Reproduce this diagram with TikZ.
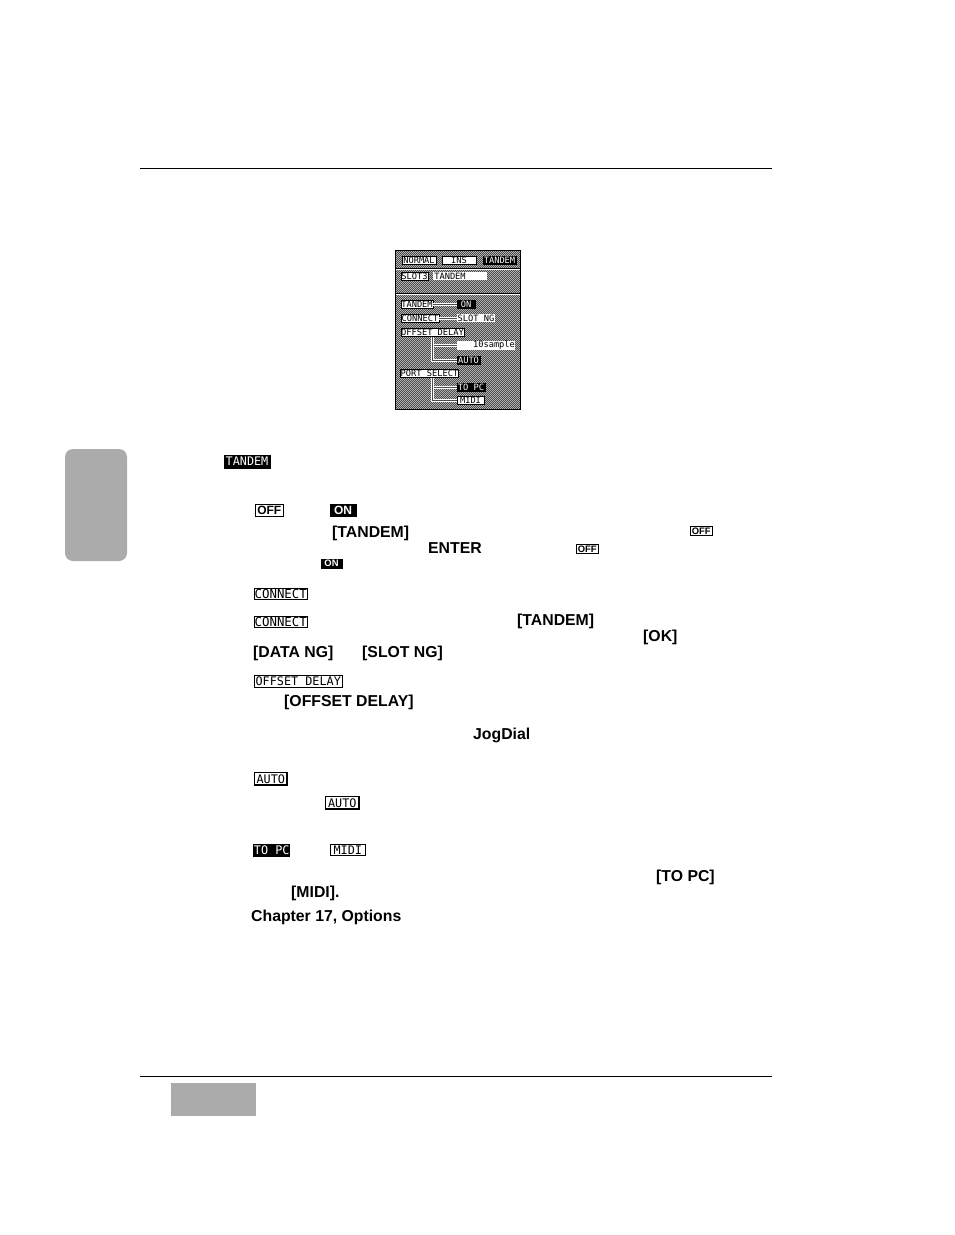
\documentclass[tikz,border=0pt]{standalone}
\usepackage{fontspec}
\setmainfont{Liberation Sans}
\newfontfamily\lcdfont{DejaVu Sans Mono}
\newcommand{\lcd}{\fontsize{8.7}{9}\lcdfont}
\newcommand{\lcdbig}{\fontsize{11.8}{12}\lcdfont}
\newcommand{\lcdcon}{\fontsize{12.4}{13}\lcdfont}
\newcommand{\offon}{\fontsize{12}{12}\bfseries}
\newcommand{\offonsm}{\fontsize{9.4}{10}\bfseries}
\newcommand{\mybtn}[7]{% name, style, x1, y1, x2, y2, text
  \pgfmathsetmacro{\bw}{#5-#3}\pgfmathsetmacro{\bh}{#6-#4}
  \pgfmathsetmacro{\cx}{(#3+#5)/2}\pgfmathsetmacro{\cy}{(#4+#6)/2}
  \node[#2, minimum width=\bw pt, minimum height=\bh pt] (#1) at (\cx,\cy) {#7};}
\tikzset{
  rulel/.style={line width=1pt, black},
  wbtn/.style={draw=black, fill=white, line width=1pt, inner sep=0pt, outer sep=0pt, text=black},
  kbtn/.style={draw=black, fill=black, line width=1pt, inner sep=0pt, outer sep=0pt, text=white},
  plain/.style={fill=white, inner sep=0pt, outer sep=0pt, text=black},
  wire/.style={black!70, line width=.5pt, preaction={draw, white, line width=3pt}},
  lab/.style={anchor=base west, inner sep=0pt, font=\fontsize{15.8}{16}\bfseries},
  chk/.style={black!70, line width=1pt, dash pattern=on 1pt off 1pt},
}
\begin{document}
\begin{tikzpicture}[x=1pt,y=-1pt]
\useasboundingbox (0,0) rectangle (954,1235);
\fill[white] (0,0) rectangle (954,1235);
\coordinate (tl) at (140,168.5); \coordinate (tr) at (772,168.5);
\coordinate (bl) at (140,1076.5); \coordinate (br) at (772,1076.5);
\draw[rulel] (tl) -- (tr);
\draw[rulel] (bl) -- (br);
\fill[black!33, rounded corners=8pt] (65,449) rectangle (127,561);
\fill[black!33] (171,1083) rectangle (256,1116);
% panel
\fill[black!30] (395,250) rectangle (521,410);
\foreach \r in {0,...,158}{
  \pgfmathtruncatemacro{\ph}{mod(\r,2)}
  \draw[chk, dash phase=\ph pt] (395,250.5+\r) -- (521,250.5+\r);
}
\draw[white,line width=1pt] (395.5,269.5) -- (520.5,269.5);
\draw[white,line width=1pt] (395.5,294.5) -- (520.5,294.5);
\draw[black,line width=1pt] (395.5,268.5) -- (520.5,268.5);
\draw[black,line width=1pt] (395.5,293.5) -- (520.5,293.5);
\draw[black,line width=1pt] (395.5,250.5) rectangle (520.5,409.5);
\begin{scope}[font=\lcd]
\mybtn{normal}{wbtn}{402}{256}{436}{264}{NORMAL}
\mybtn{ins}{wbtn}{442}{256}{476}{264}{INS}
\mybtn{tand}{kbtn}{483}{256}{516}{264}{TANDEM}
\mybtn{slot}{wbtn}{401}{272}{428}{280}{SLOT3}
\coordinate (offdrop) at (432,336);
\coordinate (portdrop) at (432,377);
\mybtn{slotv}{plain}{433}{272}{487}{280}{\hspace*{-20pt}TANDEM}
\mybtn{tandk}{wbtn}{401}{300}{433}{308}{TANDEM}
\mybtn{tandv}{kbtn}{457}{300}{475}{308}{ON}
\mybtn{conk}{wbtn}{401}{314}{439}{322}{CONNECT}
\mybtn{conv}{plain}{457}{314}{495}{322}{SLOT NG}
\mybtn{offv}{plain}{457}{342}{515}{349}{\hspace*{16pt}10sample}
\mybtn{autov}{kbtn}{457}{356}{480}{364}{AUTO}
\mybtn{pc}{kbtn}{457}{383}{485}{391}{TO PC}
\mybtn{midi}{wbtn}{457}{396}{484}{404}{MIDI}
\draw[wire] (tandk) -- (tandv);
\draw[wire] (conk) -- (conv);
\draw[wire] (offdrop) |- (offv.west);
\draw[wire] (offdrop) |- (autov.west);
\draw[wire] (portdrop) |- (pc.west);
\draw[wire] (portdrop) |- (midi.west);
\mybtn{offk}{wbtn}{401}{328}{464}{336}{OFFSET DELAY}
\mybtn{portk}{wbtn}{401}{369}{458}{377}{PORT SELECT}
\end{scope}
% inline icons
\mybtn{i1}{kbtn}{224}{455}{270}{468}{\lcdbig TANDEM}
\mybtn{i2}{wbtn}{255.5}{504.5}{283}{516}{\offon OFF}
\mybtn{i3}{kbtn}{330}{504}{356}{516}{\offon ON}
\mybtn{i4}{wbtn}{690.5}{526.5}{712}{535.5}{\offonsm OFF}
\mybtn{i5}{wbtn}{576.5}{544.5}{598}{553.5}{\offonsm OFF}
\mybtn{i6}{kbtn}{321}{559}{342}{568}{\offonsm ON}
\mybtn{i7}{wbtn}{254.5}{588.5}{307}{599.5}{\lcdcon CONNECT}
\mybtn{i8}{wbtn}{254.5}{616.5}{307}{627.5}{\lcdcon CONNECT}
\mybtn{i9}{wbtn}{254.5}{675.5}{342}{687.5}{\lcdbig OFFSET DELAY}
\mybtn{i10}{wbtn, line width=1.4pt}{254.5}{772.5}{287}{785}{\lcdbig AUTO}
\mybtn{i11}{wbtn, line width=1.4pt}{325.5}{796.5}{359}{809}{\lcdbig AUTO}
\mybtn{i12}{kbtn}{254.5}{844.5}{289}{856}{\lcdbig TO PC}
\mybtn{i13}{wbtn}{330.5}{844.5}{365}{855.5}{\lcdbig MIDI}
% labels
\node[lab] (t1) at (332,537) {[TANDEM]};
\node[lab] (t2) at (428,553) {ENTER};
\node[lab] (t3) at (517,625) {[TANDEM]};
\node[lab] (t4) at (643,641) {[OK]};
\node[lab] (t5) at (253,657) {[DATA NG]};
\node[lab] (t6) at (362,657) {[SLOT NG]};
\node[lab] (t7) at (284,706) {[OFFSET DELAY]};
\node[lab] (t8) at (473,739) {JogDial};
\node[lab] (t9) at (656,881) {[TO PC]};
\node[lab] (t10) at (291,897) {[MIDI].};
\node[lab] (t11) at (251,921) {Chapter 17, Options};
\end{tikzpicture}
\end{document}
